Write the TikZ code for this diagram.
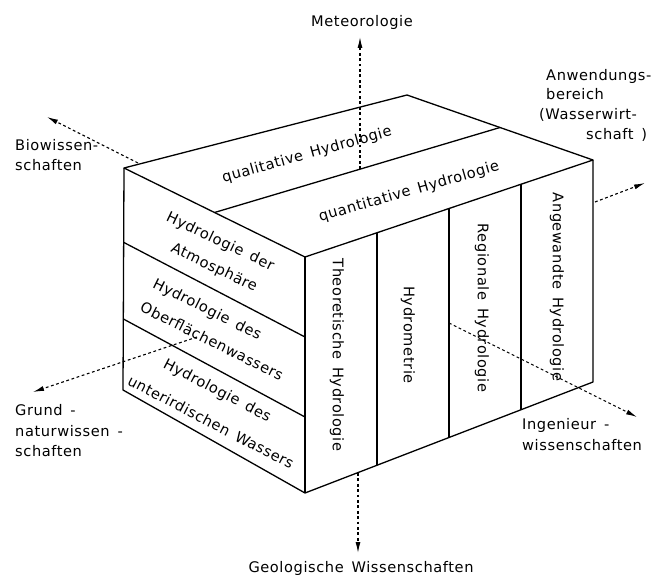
\documentclass[tikz,border=0pt]{standalone}
\usepackage{fontspec}
\newfontfamily\dinfont[LetterSpace=4,WordSpace=1.5]{DejaVu Sans}
\usetikzlibrary{arrows.meta,calc}
\begin{document}
\begin{tikzpicture}[x=1pt,y=-1pt,
  edge/.style={line width=1.3pt, line join=round},
  axis/.style={line width=1.1pt, dash pattern=on 2.8pt off 2.6pt, -{Latex[length=11pt,width=5pt]}},
  lab/.style={inner sep=0pt, font=\dinfont\fontsize{14.6}{20}\selectfont},
  lw/.style={lab, anchor=base west},
]
\useasboundingbox (0,0) rectangle (656,575);
% box corners
\coordinate (A) at (124,168);
\coordinate (B) at (407,95);
\coordinate (C) at (593,160);
\coordinate (D) at (305,257);
\coordinate (E) at (305,493);
\coordinate (F) at (593,382);
\coordinate (G) at (123,390);
% outline
\draw[edge] (A) -- (B) -- (C) -- (D) -- cycle;
\draw[edge] (A) -- (G) -- (E) -- (F) -- (C);
\draw[edge] (D) -- (E);
% top divider
\draw[edge] ($(A)!0.5!(D)$) -- ($(B)!0.5!(C)$);
% left face dividers
\draw[edge] ($(A)!0.335!(G)$) -- ($(D)!0.339!(E)$);
\draw[edge] ($(A)!0.68!(G)$) -- ($(D)!0.678!(E)$);
% right face dividers
\draw[edge] ($(D)!0.25!(C)$) -- ($(E)!0.25!(F)$);
\draw[edge] ($(D)!0.5!(C)$) -- ($(E)!0.5!(F)$);
\draw[edge] ($(D)!0.75!(C)$) -- ($(E)!0.75!(F)$);

% axes
\coordinate (meteoS) at (360,169);
\coordinate (meteoE) at (360,37);
\coordinate (geoS) at (358,473);
\coordinate (geoE) at (358,553);
\coordinate (bioS) at (138,163);
\coordinate (bioE) at (47,117);
\coordinate (anwS) at (595,202);
\coordinate (anwE) at (645,183);
\coordinate (ingS) at (449,323);
\coordinate (ingE) at (637,417);
\coordinate (grS) at (197,337);
\coordinate (grE) at (33,392);
\draw[axis] (meteoS) -- (meteoE);
\draw[axis] (geoS) -- (geoE);
\draw[axis] (bioS) -- (bioE);
\draw[axis] (anwS) -- (anwE);
\draw[axis] (ingS) -- (ingE);
\draw[axis] (grS) -- (grE);

% outside labels
\node[lab, anchor=base] (meteo) at (362,26.5) {Meteorologie};
\node[lab, anchor=base] (geo) at (361,572) {Geologische Wissenschaften};
\node[lw] (bio1) at (15,150.5) {Biowissen-};
\node[lw] (bio2) at (15,170.5) {schaften};
\node[lw] (anw1) at (546,80.5) {Anwendungs-};
\node[lw] (anw2) at (546,100) {bereich};
\node[lw] (anw3) at (539,120) {(Wasserwirt-};
\node[lw] (anw4) at (586,139.5) {schaft )};
\node[lw] (ing1) at (522,429.5) {Ingenieur -};
\node[lw] (ing2) at (522,450) {wissenschaften};
\node[lw] (gr1) at (15,415.5) {Grund -};
\node[lw] (gr2) at (15,436) {naturwissen -};
\node[lw] (gr3) at (15,456) {schaften};

% top face
\node[lab, rotate=15.5] (qual) at (307,155) {qualitative Hydrologie};
\node[lab, rotate=16] (quant) at (409,192) {quantitative Hydrologie};

% left face
\node[lab, rotate=-25.5] (l1a) at (220,242) {Hydrologie der};
\node[lab, rotate=-25.5] (l1b) at (214,268) {Atmosphäre};
\node[lab, rotate=-26.5] (l2a) at (207,310) {Hydrologie des};
\node[lab, rotate=-26.5] (l2b) at (212,341) {Oberflächenwassers};
\node[lab, rotate=-27.5] (l3a) at (217,391) {Hydrologie des};
\node[lab, rotate=-27.5] (l3b) at (211,422) {unterirdischen Wassers};

% right face
\node[lab, rotate=-90] (r1) at (337,355) {Theoretische Hydrologie};
\node[lab, rotate=-90] (r2) at (408,335) {Hydrometrie};
\node[lab, rotate=-90] (r3) at (482,308) {Regionale Hydrologie};
\node[lab, rotate=-90] (r4) at (557,287) {Angewandte Hydrologie};
\end{tikzpicture}
\end{document}
